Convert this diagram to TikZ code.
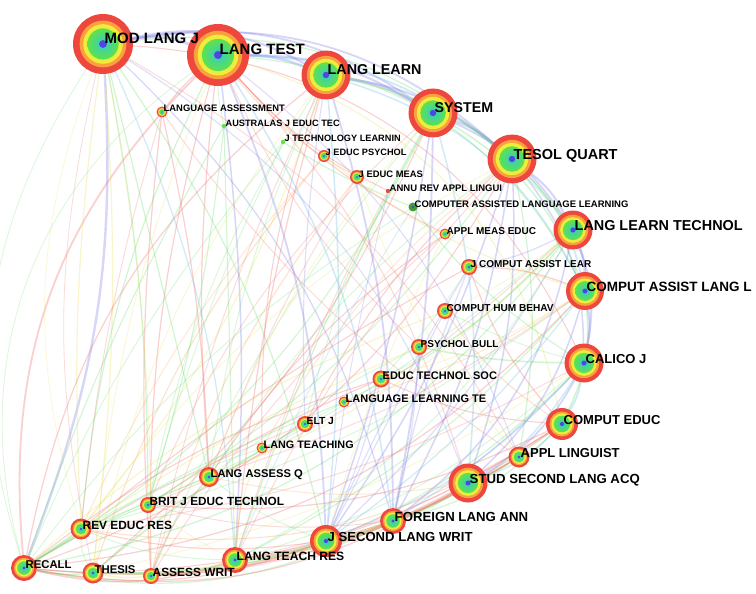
\documentclass[tikz,border=0pt]{standalone}
\usepackage{fontspec}
\setmainfont{Liberation Sans}
\usetikzlibrary{calc}

\definecolor{ringred}{RGB}{238,72,62}
\definecolor{ringorange}{RGB}{250,160,62}
\definecolor{ringyellow}{RGB}{238,236,60}
\definecolor{ringgreen}{RGB}{96,226,72}
\definecolor{ringcyan}{RGB}{50,205,200}
\definecolor{ringcore}{RGB}{80,70,225}
\definecolor{edgeblue}{RGB}{130,130,235}
\definecolor{edgecyan}{RGB}{110,190,235}
\definecolor{edgegreen}{RGB}{110,225,110}
\definecolor{edgered}{RGB}{242,110,110}
\definecolor{edgeyellow}{RGB}{235,225,90}
\definecolor{edgeorange}{RGB}{248,165,90}

\pgfdeclarelayer{edges}
\pgfdeclarelayer{labels}
\pgfsetlayers{edges,main,labels}

% ringed journal node: name, x, y, radius, font size, label
\newcommand{\jnl}[6]{%
  \node[ring, minimum size={2*#4pt}] (#1) at (#2,#3) {};
  \fill[ringorange] (#1.center) circle ({0.78*#4pt});
  \fill[ringyellow] (#1.center) circle ({0.66*#4pt});
  \shade[inner color=ringcyan, outer color=ringgreen] (#1.center) circle ({0.52*#4pt});
  \fill[ringcore] (#1.center) circle ({0.13*#4pt});
  \begin{pgfonlayer}{labels}
  \node[lbl, font=\fontsize{#5}{#5}\selectfont\bfseries] (#1-txt) at (#1.center) {#6};
  \end{pgfonlayer}
}
% small plain dot node: name, x, y, radius, font size, label, colour
\newcommand{\jdot}[7]{%
  \node[ring, fill=#7, minimum size={2*#4pt}] (#1) at (#2,#3) {};
  \begin{pgfonlayer}{labels}
  \node[lbl, font=\fontsize{#5}{#5}\selectfont\bfseries] (#1-txt) at (#1.center) {#6};
  \end{pgfonlayer}
}

\begin{document}
\begin{tikzpicture}[x=1pt, y=-1pt,
    ring/.style={circle, inner sep=0pt, outer sep=0pt, fill=ringred},
    lbl/.style={anchor=base west, inner sep=0pt, xshift=1.5pt, text=black},
    edge/.style={draw opacity=0.32},
    faint/.style={draw opacity=0.25}]
    \useasboundingbox (0,0) rectangle (756,594);

    % Draw the big journals along the top
    \jnl{modlangj}{103}{44}{30}{15}{MOD LANG J}
    \jnl{langtest}{218}{55}{31}{15}{LANG TEST}
    \jnl{langlearn}{326}{75}{24.5}{14.3}{LANG LEARN}
    \jnl{system}{433}{113}{24.5}{14.2}{SYSTEM}
    \jnl{tesol}{512}{159}{24.5}{14.5}{TESOL QUART}

    % Draw the right hand side
    \jnl{llt}{573}{230}{19.5}{14.4}{LANG LEARN TECHNOL}
    \jnl{call}{585}{291}{19}{13.5}{COMPUT ASSIST LANG L}
    \jnl{calico}{584}{363}{19.5}{13}{CALICO J}
    \jnl{compeduc}{562}{424}{16}{13}{COMPUT EDUC}
    \jnl{appling}{519}{457}{10.5}{13}{APPL LINGUIST}
    \jnl{sla}{468}{483}{19.5}{13.2}{STUD SECOND LANG ACQ}
    \jnl{fla}{393}{521}{13}{13.2}{FOREIGN LANG ANN}
    \jnl{jslw}{326}{541}{16}{13.1}{J SECOND LANG WRIT}

    % Draw the bottom left
    \jnl{ltr}{235}{560}{13}{12.1}{LANG TEACH RES}
    \jnl{assesswrit}{151}{576}{8}{11.9}{ASSESS WRIT}
    \jnl{thesis}{93}{573}{10.5}{11.3}{THESIS}
    \jnl{recall}{24}{568}{13}{11.3}{RECALL}
    \jnl{rer}{81}{529}{10.5}{11.9}{REV EDUC RES}
    \jnl{bjet}{148}{505}{8}{11.8}{BRIT J EDUC TECHNOL}
    \jnl{laq}{209}{477}{10}{11.2}{LANG ASSESS Q}

    % Draw the small inner journals
    \jnl{langassess}{162}{112}{5.5}{9.4}{LANGUAGE ASSESSMENT}
    \jdot{australas}{224}{126}{2.2}{9.2}{AUSTRALAS J EDUC TEC}{ringgreen}
    \jdot{jtechlearn}{283}{142}{2.2}{9.2}{J TECHNOLOGY LEARNIN}{ringgreen}
    \jnl{jedpsych}{324}{156}{6}{9.2}{J EDUC PSYCHOL}
    \jnl{jedmeas}{357}{177}{7}{9.4}{J EDUC MEAS}
    \jdot{annurev}{388}{191}{2.2}{9.5}{ANNU REV APPL LINGUI}{ringred}
    \jdot{compassisted}{413}{207}{4.5}{9.5}{COMPUTER ASSISTED LANGUAGE LEARNING}{ringgreen!70!black}
    \fill[ringcore] (compassisted.center) circle (1.5pt);
    \jnl{applmeas}{445}{234}{5.5}{10}{APPL MEAS EDUC}
    \jnl{jcal}{469}{267}{8}{10}{J COMPUT ASSIST LEAR}
    \jnl{comphum}{445}{311}{8}{10.1}{COMPUT HUM BEHAV}
    \jnl{psychbull}{419}{347}{8}{10}{PSYCHOL BULL}
    \jnl{ets}{381}{379}{8.5}{11}{EDUC TECHNOL SOC}
    \jnl{langlearnte}{344}{402}{5.5}{11}{LANGUAGE LEARNING TE}
    \jnl{eltj}{305}{424}{8}{10.3}{ELT J}
    \jnl{langteaching}{262}{448}{5.5}{10.8}{LANG TEACHING}

    % Add the co-citation links behind the journals
    \begin{pgfonlayer}{edges}
    \fill[white] (0,0) rectangle (756,594);
    \foreach \a/\b/\c/\w/\bnd in {
        modlangj/langtest/edgeblue/1.8/15, modlangj/langlearn/edgeblue/1.5/20,
        modlangj/system/edgeblue/1.2/22, modlangj/tesol/edgeblue/1.2/25,
        langtest/langlearn/edgeblue/1.8/10, langtest/system/edgeblue/1.4/15,
        langtest/tesol/edgecyan/1.2/18, langlearn/system/edgeblue/1.8/10,
        langlearn/tesol/edgeblue/1.4/15, system/tesol/edgeblue/1.6/10,
        system/llt/edgeblue/1.2/15, tesol/llt/edgeblue/1.4/12,
        tesol/call/edgecyan/1.2/15, llt/call/edgeblue/1.5/10,
        llt/calico/edgeblue/1.5/15, call/calico/edgeblue/1.5/10,
        calico/compeduc/edgecyan/1.2/10, call/compeduc/edgegreen/1.0/15,
        tesol/calico/edgeblue/1.0/18, system/call/edgegreen/1.0/18,
        langlearn/llt/edgegreen/1.0/20, langlearn/call/edgecyan/1.0/22,
        modlangj/llt/edgegreen/0.8/28, langtest/call/edgegreen/0.8/28,
        modlangj/calico/edgered/0.7/30, langtest/compeduc/edgeyellow/0.7/30,
        calico/sla/edgeblue/1.2/15, compeduc/sla/edgecyan/1.0/12,
        appling/sla/edgegreen/1.0/5, call/sla/edgeblue/1.0/15,
        llt/fla/edgeblue/1.0/20, calico/fla/edgecyan/1.0/18,
        compeduc/fla/edgegreen/0.8/15, sla/fla/edgegreen/1.2/8,
        fla/jslw/edgegreen/1.2/8, jslw/ltr/edgegreen/1.2/8,
        ltr/assesswrit/edgeyellow/1.0/8, assesswrit/thesis/edgeyellow/1.0/8,
        thesis/recall/edgegreen/1.0/8, recall/ltr/edgered/1.0/-15,
        recall/jslw/edgered/0.8/-15, recall/fla/edgegreen/0.8/-18,
        recall/sla/edgered/0.8/-20, recall/calico/edgegreen/0.8/-25,
        recall/call/edgered/0.8/-20, recall/llt/edgegreen/0.8/-20,
        modlangj/recall/edgeblue/1.6/12, langtest/recall/edgered/1.2/-25,
        modlangj/rer/edgeyellow/0.8/-5, modlangj/thesis/edgeyellow/0.8/5,
        modlangj/bjet/edgegreen/0.8/5, modlangj/laq/edgegreen/0.8/0,
        modlangj/ltr/edgecyan/0.8/10, modlangj/jslw/edgegreen/0.8/10,
        modlangj/fla/edgeblue/0.8/15, langtest/laq/edgered/0.8/-5,
        langtest/ltr/edgeblue/1.0/5, langtest/jslw/edgeblue/1.2/10,
        langtest/assesswrit/edgered/0.8/-8, langtest/rer/edgegreen/0.8/-10,
        langtest/fla/edgecyan/1.0/12, langlearn/fla/edgeblue/1.2/8,
        langlearn/jslw/edgecyan/1.0/5, langlearn/ltr/edgered/0.8/-5,
        langlearn/recall/edgered/0.8/-20, system/fla/edgeblue/1.2/5,
        system/jslw/edgeblue/1.0/5, system/ltr/edgegreen/0.8/-5,
        system/sla/edgecyan/1.0/10, tesol/fla/edgeblue/1.0/10,
        tesol/sla/edgeblue/1.0/10, tesol/jslw/edgeblue/1.0/8,
        tesol/appling/edgegreen/0.8/10, australas/ltr/edgegreen/0.7/0,
        australas/recall/edgegreen/0.7/-5, australas/bjet/edgegreen/0.7/5,
        langassess/laq/edgered/0.8/5, langassess/assesswrit/edgered/0.8/-5,
        langassess/langtest/edgered/0.8/5, jedmeas/assesswrit/edgeorange/0.7/-10,
        jedmeas/langtest/edgeorange/0.7/10, jedpsych/thesis/edgeorange/0.7/-10,
        jedpsych/call/edgeyellow/0.7/-10, annurev/langtest/edgered/0.7/10,
        compassisted/calico/edgegreen/0.7/-10, compassisted/jtechlearn/edgegreen/0.7/5,
        applmeas/laq/edgered/0.7/-10, applmeas/langtest/edgered/0.7/10,
        jcal/call/edgered/0.8/10, jcal/compeduc/edgered/0.8/-10,
        jcal/rer/edgered/0.7/-5, comphum/compeduc/edgeorange/0.7/-10,
        comphum/recall/edgeyellow/0.7/-10, psychbull/calico/edgegreen/1.0/-5,
        psychbull/rer/edgeyellow/0.7/-5, ets/compeduc/edgered/0.7/-10,
        ets/bjet/edgered/0.7/-5, ets/recall/edgered/0.7/-10,
        langlearnte/llt/edgegreen/0.7/-10, langlearnte/recall/edgegreen/0.7/-5,
        eltj/tesol/edgered/0.7/10, eltj/thesis/edgegreen/0.7/-5,
        langteaching/langlearn/edgered/0.7/10, langteaching/ltr/edgeyellow/0.7/-10,
        laq/assesswrit/edgered/0.8/-10, laq/recall/edgegreen/0.7/-5,
        bjet/recall/edgegreen/0.8/-5, bjet/compeduc/edgered/0.8/-15,
        rer/recall/edgegreen/0.8/0, rer/compeduc/edgeorange/0.7/-20,
        rer/jslw/edgered/0.7/-10, thesis/compeduc/edgered/0.7/-15,
        thesis/fla/edgegreen/0.7/-10, assesswrit/jslw/edgered/0.8/-8,
        assesswrit/appling/edgeorange/0.7/-12, ltr/sla/edgered/0.8/-10,
        ltr/fla/edgeorange/0.8/-8, jslw/appling/edgeorange/0.8/-8,
        recall/compeduc/edgered/0.8/-20, recall/tesol/edgered/0.7/-20,
        recall/system/edgegreen/0.7/-15, rer/langlearn/edgeyellow/0.7/-10,
        thesis/system/edgered/0.7/-12, bjet/tesol/edgegreen/0.7/-10,
        laq/llt/edgeyellow/0.7/-12, ltr/call/edgegreen/0.7/-10,
        jslw/call/edgecyan/0.8/-8, fla/calico/edgecyan/0.9/-6}
        \draw[edge, draw=\c, line width=1.5*\w pt, bend left=\bnd] (\a) to (\b);
    % fainter links that fill the middle
    \foreach \a/\b/\c/\w/\bnd in {
        langlearn/laq/edgegreen/0.6/-8, langlearn/bjet/edgegreen/0.6/-10,
        langlearn/thesis/edgeyellow/0.6/-12, langlearn/assesswrit/edgered/0.6/-6,
        system/laq/edgeyellow/0.6/-10, system/bjet/edgered/0.6/-12,
        system/assesswrit/edgegreen/0.6/-8, tesol/ltr/edgered/0.6/-8,
        tesol/laq/edgegreen/0.6/-10, tesol/rer/edgeyellow/0.6/-12,
        llt/jslw/edgeblue/0.8/8, llt/ltr/edgegreen/0.6/15,
        llt/bjet/edgered/0.6/10, llt/rer/edgegreen/0.6/10,
        call/rer/edgegreen/0.6/10, call/laq/edgered/0.6/8,
        calico/jslw/edgeblue/0.8/12, calico/ltr/edgegreen/0.6/12,
        calico/rer/edgered/0.6/10, calico/thesis/edgeyellow/0.6/10,
        compeduc/ltr/edgered/0.6/10, compeduc/jslw/edgegreen/0.6/10,
        appling/fla/edgeorange/0.7/5, appling/ltr/edgered/0.6/10,
        jcal/fla/edgeblue/0.8/-5, jcal/jslw/edgeblue/0.7/-3,
        jcal/ets/edgegreen/0.6/5, jcal/llt/edgeblue/0.8/-8,
        comphum/jslw/edgeblue/0.7/0, comphum/calico/edgegreen/0.6/-5,
        comphum/llt/edgeyellow/0.6/-8, psychbull/fla/edgeblue/0.7/5,
        psychbull/langtest/edgered/0.6/10, psychbull/laq/edgegreen/0.6/-5,
        ets/llt/edgegreen/0.6/-10, ets/call/edgeyellow/0.6/-8,
        ets/jslw/edgeblue/0.7/5, langlearnte/call/edgeorange/0.6/-8,
        langlearnte/thesis/edgegreen/0.6/-5, eltj/langlearn/edgeblue/0.7/5,
        eltj/system/edgegreen/0.6/8, eltj/recall/edgered/0.6/-5,
        langteaching/tesol/edgeorange/0.6/10, langteaching/rer/edgegreen/0.6/-5,
        applmeas/assesswrit/edgered/0.6/-8, applmeas/jslw/edgeyellow/0.6/-5,
        annurev/ltr/edgered/0.6/-5, annurev/jslw/edgeblue/0.6/-3,
        compassisted/recall/edgegreen/0.6/-10, compassisted/ltr/edgecyan/0.6/-5,
        jedmeas/laq/edgered/0.6/-5, jedmeas/appling/edgeyellow/0.6/-10,
        jedpsych/rer/edgeorange/0.6/-8, jtechlearn/bjet/edgegreen/0.6/-5,
        jtechlearn/recall/edgegreen/0.6/-8, australas/langtest/edgegreen/0.6/5,
        langassess/rer/edgered/0.6/-5, langassess/appling/edgered/0.6/-10,
        modlangj/sla/edgeblue/0.7/18, modlangj/appling/edgered/0.6/15,
        modlangj/assesswrit/edgeyellow/0.6/5, langtest/sla/edgered/0.7/12,
        langtest/appling/edgeblue/0.7/15, langtest/thesis/edgeyellow/0.6/-8,
        rer/thesis/edgegreen/0.6/-15, rer/ltr/edgegreen/0.6/-10,
        bjet/ltr/edgeyellow/0.6/-5, bjet/fla/edgered/0.6/-10,
        laq/jslw/edgegreen/0.6/-8, laq/sla/edgeorange/0.6/-10,
        thesis/jslw/edgegreen/0.6/-10, thesis/ltr/edgeyellow/0.6/-8,
        assesswrit/fla/edgered/0.6/-10, recall/appling/edgered/0.6/-18,
        modlangj/recall/edgegreen/0.5/-25, modlangj/rer/edgeyellow/0.5/-18,
        langtest/recall/edgegreen/0.5/-35, modlangj/thesis/edgered/0.5/-12}
        \draw[faint, draw=\c, line width=1.6*\w pt, bend left=\bnd] (\a) to (\b);
    \end{pgfonlayer}
\end{tikzpicture}
\end{document}
